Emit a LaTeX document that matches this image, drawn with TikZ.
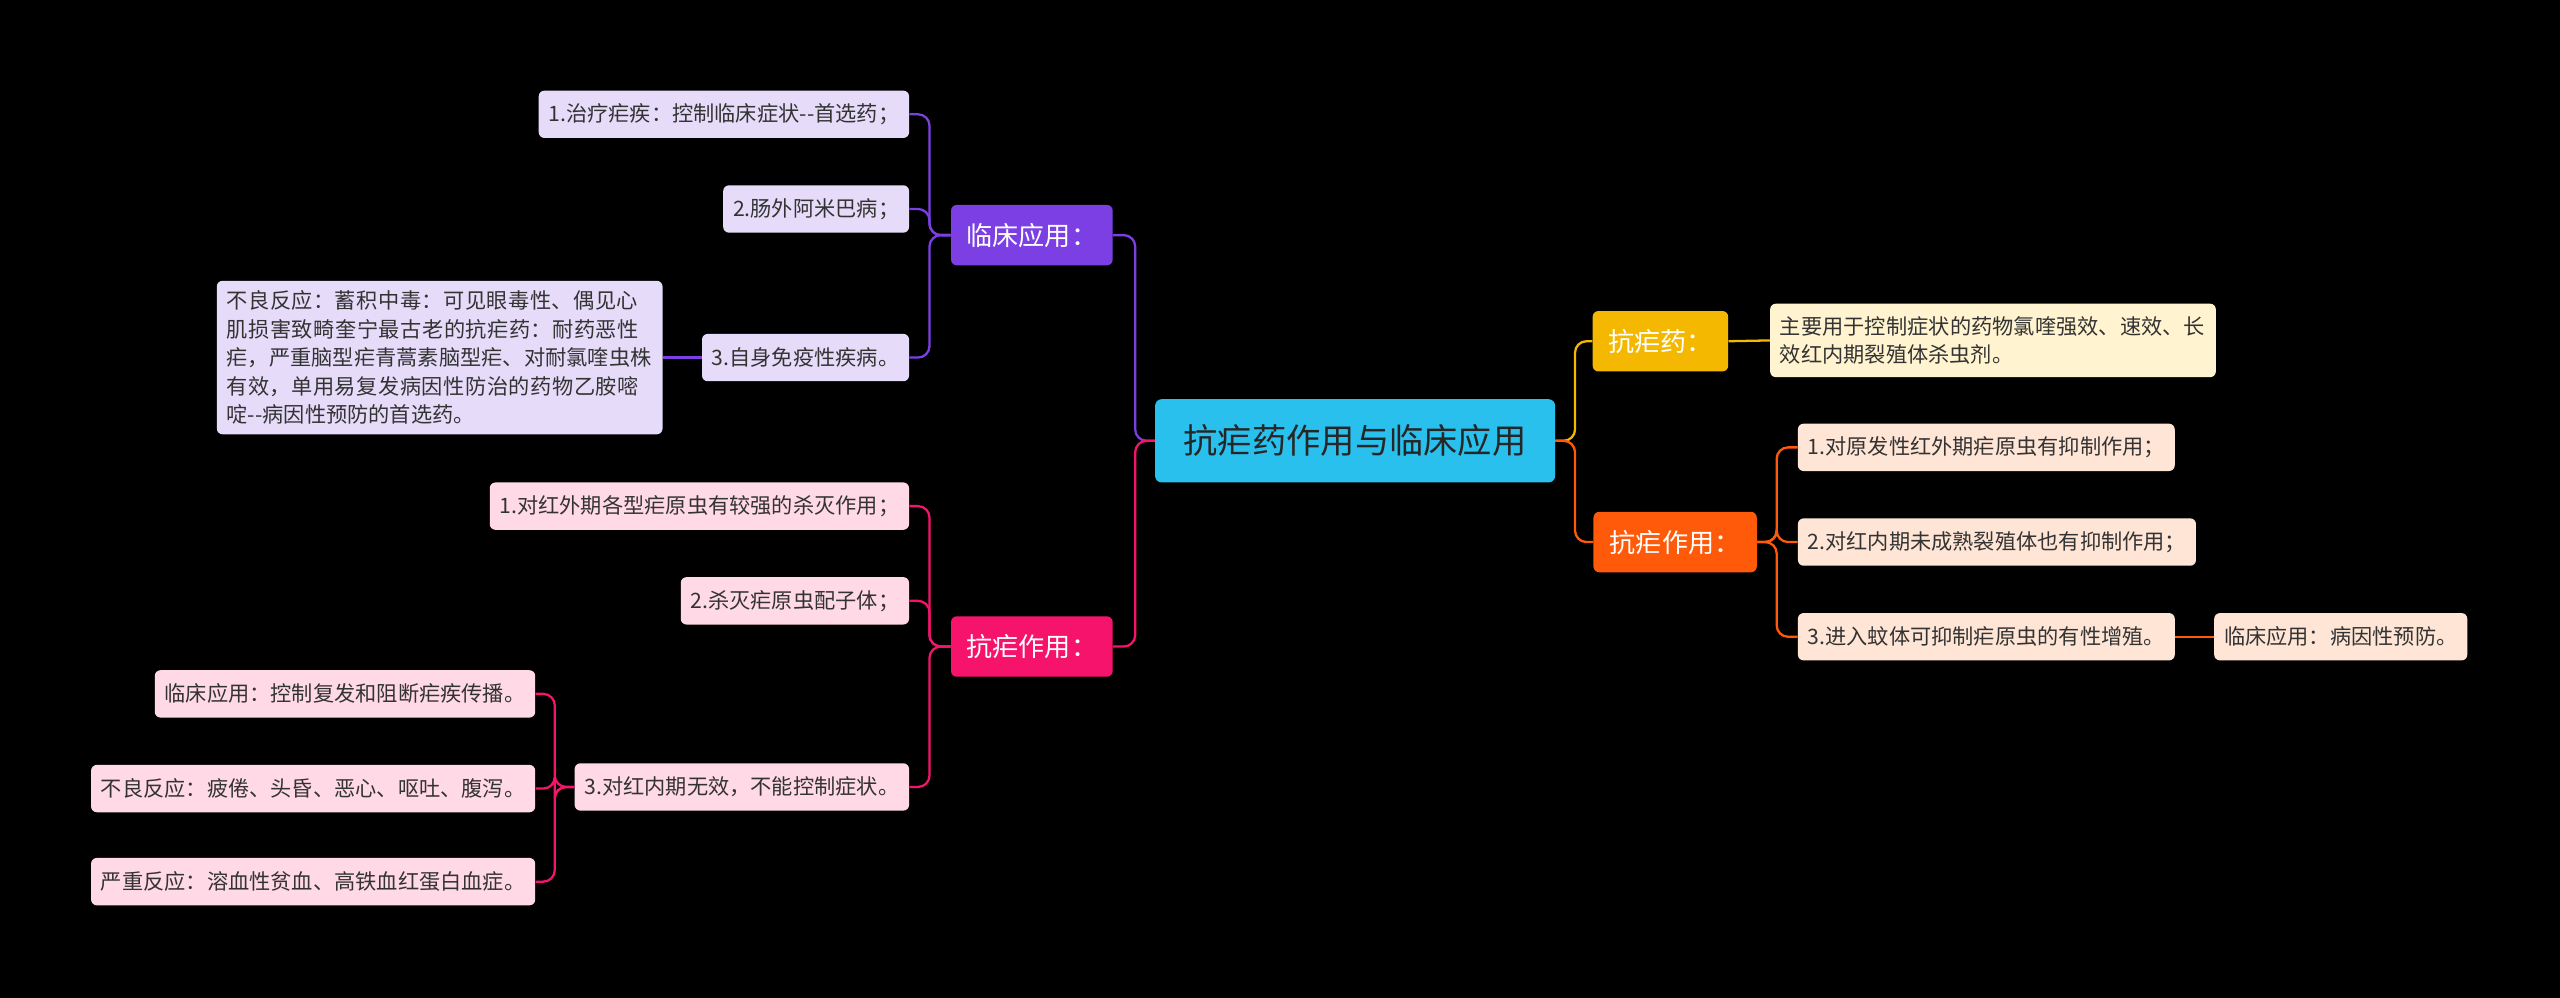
\documentclass[tikz,border=0pt]{standalone}
\usepackage{fontspec}
\setmainfont{Noto Sans CJK SC}
\XeTeXlinebreaklocale "zh"
\XeTeXlinebreakskip=0pt plus 1pt
\begin{document}
\begin{tikzpicture}[x=1pt,y=-1pt,
 leaf/.style={rounded corners=3.5pt,inner xsep=6pt,inner ysep=0pt,minimum height=29pt,text=black!80,font=\fontsize{13}{17.5}\selectfont},
 br/.style={rounded corners=3.5pt,inner xsep=8pt,minimum height=37pt,text=white,font=\fontsize{16}{20}\selectfont},
 ln/.style={line width=1.4pt,rounded corners=7pt}]
\fill[black] (0,0) rectangle (1568,611);
\useasboundingbox (0,0) rectangle (1568,611);
\node[rounded corners=4pt,fill={rgb,255:red,41;green,192;blue,238},minimum width=245pt,minimum height=51pt,font=\fontsize{21}{24}\selectfont,text=black!85] (root) at (830,270) {抗疟药作用与临床应用};
% right
\colorlet{cy}{rgb,255:red,245;green,184;blue,0}
\colorlet{co}{rgb,255:red,255;green,90;blue,10}
\colorlet{cp}{rgb,255:red,123;green,63;blue,228}
\colorlet{ck}{rgb,255:red,245;green,19;blue,108}
\node[br,fill=cy,minimum width=83pt] (kny) at (1017,209) {抗疟药：};
\node[leaf,fill={rgb,255:red,255;green,243;blue,208},anchor=west,text width=261pt,minimum height=45pt,align=left] (ky) at (1084,208.5) {主要用于控制症状的药物氯喹强效、速效、长效红内期裂殖体杀虫剂。};
\node[br,fill=co,minimum width=100pt] (kzr) at (1026,332) {抗疟作用：};
\tikzset{lo/.style={leaf,fill={rgb,255:red,255;green,229;blue,213},anchor=west}}
\node[lo] (r1) at (1101,274) {1.对原发性红外期疟原虫有抑制作用；};
\node[lo] (r2) at (1101,332) {2.对红内期未成熟裂殖体也有抑制作用；};
\node[lo] (r3) at (1101,390) {3.进入蚊体可抑制疟原虫的有性增殖。};
\node[lo] (r4) at (1356,390) {临床应用：病因性预防。};
\draw[ln,cy] (root.east) -- ++(12,0) |- (kny.west);
\draw[ln,co] (root.east) -- ++(12,0) |- (kzr.west);
\draw[ln,cy] (kny.east) -- (ky.west);
\foreach \c in {r1,r2,r3} \draw[ln,co] (kzr.east) -- ++(12,0) |- (\c.west);
\draw[ln,co] (r3.east) -- (r4.west);
% left
\node[br,fill=cp,minimum width=99pt] (lc) at (632,144) {临床应用：};
\node[br,fill=ck,minimum width=99pt] (kz) at (632,396) {抗疟作用：};
\draw[ln,cp] (root.west) -- ++(-12,0) |- (lc.east);
\draw[ln,ck] (root.west) -- ++(-12,0) |- (kz.east);
\tikzset{lp/.style={leaf,fill={rgb,255:red,230;green,220;blue,250},anchor=east},
 lk/.style={leaf,fill={rgb,255:red,255;green,217;blue,230},anchor=east}}
\node[lp] (p1) at (557,70) {1.治疗疟疾：控制临床症状{-}{-}首选药；};
\node[lp] (p2) at (557,128) {2.肠外阿米巴病；};
\node[lp] (p3) at (557,219) {3.自身免疫性疾病。};
\node[lp,text width=261pt,minimum height=94pt,align=left] (p4) at (406,219) {不良反应：蓄积中毒：可见眼毒性、偶见心肌损害致畸奎宁最古老的抗疟药：耐药恶性疟，严重脑型疟青蒿素脑型疟、对耐氯喹虫株有效，单用易复发病因性防治的药物乙胺嘧啶{-}{-}病因性预防的首选药。};
\foreach \c in {p1,p2,p3} \draw[ln,cp] (lc.west) -- ++(-13,0) |- (\c.east);
\draw[ln,cp] (p3.west) -- (p4.east);
\node[lk] (k1) at (557,310) {1.对红外期各型疟原虫有较强的杀灭作用；};
\node[lk] (k2) at (557,368) {2.杀灭疟原虫配子体；};
\node[lk] (k3) at (557,482) {3.对红内期无效，不能控制症状。};
\node[lk] (s1) at (328,425) {临床应用：控制复发和阻断疟疾传播。};
\node[lk] (s2) at (328,483) {不良反应：疲倦、头昏、恶心、呕吐、腹泻。};
\node[lk] (s3) at (328,540) {严重反应：溶血性贫血、高铁血红蛋白血症。};
\foreach \c in {k1,k2,k3} \draw[ln,ck] (kz.west) -- ++(-13,0) |- (\c.east);
\foreach \c in {s1,s2,s3} \draw[ln,ck] (k3.west) -- ++(-12,0) |- (\c.east);
\end{tikzpicture}
\end{document}
